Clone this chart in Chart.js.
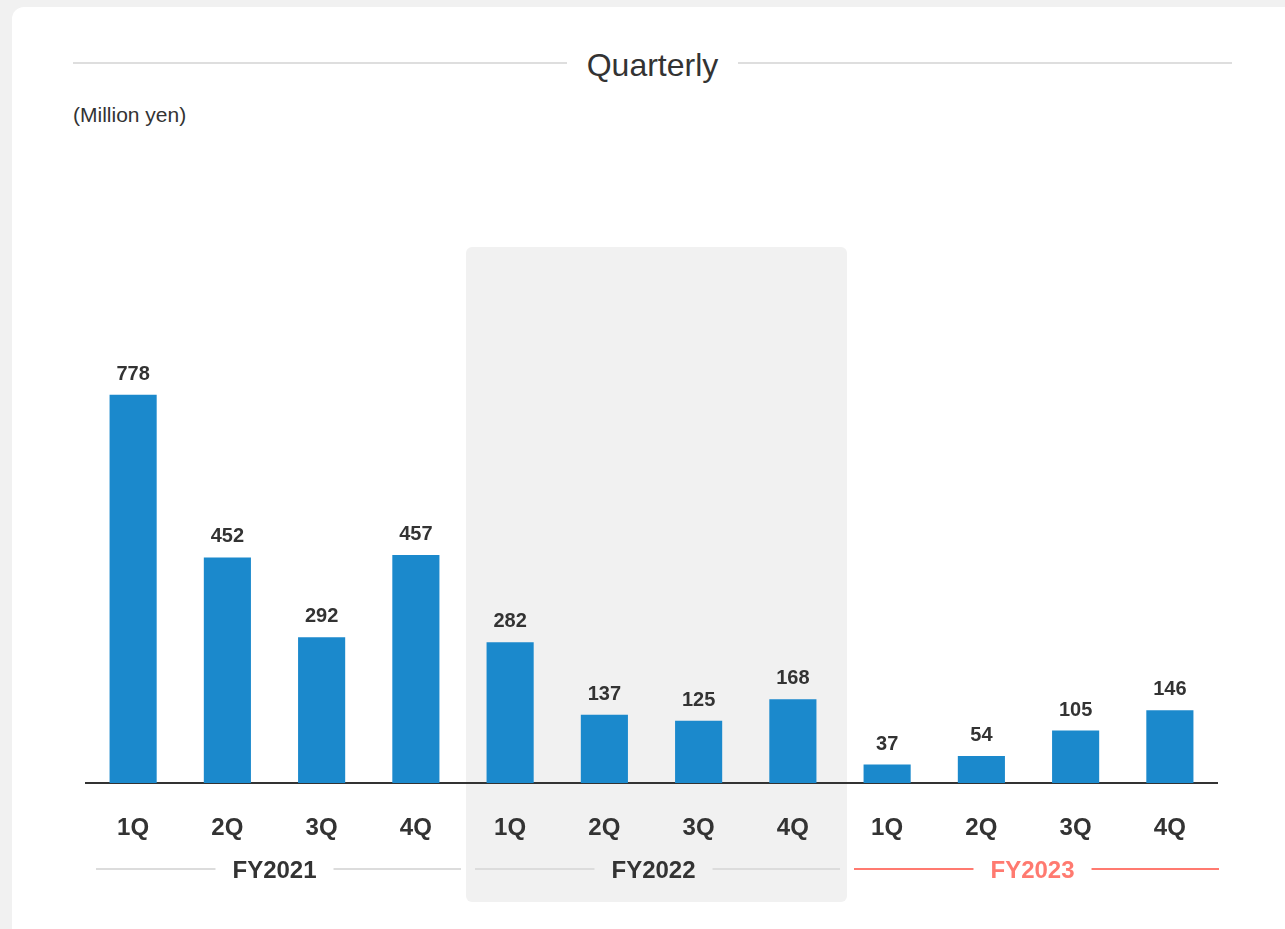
<!DOCTYPE html>
<html>
<head>
<meta charset="utf-8">
<script src="https://cdn.jsdelivr.net/npm/chart.js@4.4.0/dist/chart.umd.min.js"></script>
<style>
  html, body { margin: 0; padding: 0; }
  body {
    width: 1285px; height: 929px; overflow: hidden; position: relative;
    background: #f1f1f1;
    font-family: "Liberation Sans", Arial, sans-serif;
    color: #333;
  }
  .card {
    position: absolute; left: 12px; top: 7px; width: 1320px; height: 980px;
    background: #fff; border-radius: 12px;
  }
  .heading {
    position: absolute; left: 73px; top: 45px; width: 1159px; height: 40px;
    display: flex; align-items: center;
  }
  .heading .rule { flex: 1; height: 2px; background: #dedede; margin-top: -4px; }
  .heading span { font-size: 32px; margin: 0 20px; color: #333; line-height: 40px; }
  .unit {
    position: absolute; left: 73px; top: 102px; font-size: 21px; line-height: 26px; color: #333;
  }
  #chart { position: absolute; left: 0; top: 0; }
</style>
</head>
<body>
<div class="card"></div>
<div class="heading"><div class="rule"></div><span>Quarterly</span><div class="rule"></div></div>
<div class="unit">(Million yen)</div>
<canvas id="chart" width="1285" height="929"></canvas>
<script>
const quarters = ['1Q', '2Q', '3Q', '4Q', '1Q', '2Q', '3Q', '4Q', '1Q', '2Q', '3Q', '4Q'];
const values = [778, 452, 292, 457, 282, 137, 125, 168, 37, 54, 105, 146];
const fiscalYears = ['FY2021', 'FY2022', 'FY2023'];
const yearColors = ['#333333', '#333333', '#ff7a70'];
const ruleColors = ['#dcdcdc', '#dcdcdc', '#ff7a70'];
const shadedYear = 1;

const FONT = '"Liberation Sans", Arial, sans-serif';

// half-width of one category slot on the x scale
function slot(x) {
  return (x.getPixelForValue(1) - x.getPixelForValue(0)) / 2;
}

const shadePlugin = {
  id: 'shade',
  beforeDraw(chart) {
    const x = chart.scales.x;
    const ctx = chart.ctx;
    const h = slot(x);
    const left = x.getPixelForValue(shadedYear * 4) - h + 3;
    const right = x.getPixelForValue(shadedYear * 4 + 3) + h + 7;
    ctx.save();
    ctx.fillStyle = '#f1f1f1';
    ctx.beginPath();
    ctx.roundRect(left, 247, right - left, 655, 6);
    ctx.fill();
    ctx.restore();
  }
};

const valueLabels = {
  id: 'valueLabels',
  afterDatasetsDraw(chart) {
    const ctx = chart.ctx;
    const meta = chart.getDatasetMeta(0);
    ctx.save();
    ctx.font = 'bold 20px ' + FONT;
    ctx.fillStyle = '#333';
    ctx.textAlign = 'center';
    ctx.textBaseline = 'alphabetic';
    meta.data.forEach((bar, i) => {
      ctx.fillText(values[i], bar.x, bar.y - 15);
    });
    ctx.restore();
  }
};

const yearLabels = {
  id: 'yearLabels',
  afterDraw(chart) {
    const x = chart.scales.x;
    const ctx = chart.ctx;
    const h = slot(x);
    const lineY = 869;
    ctx.save();
    ctx.font = 'bold 24px ' + FONT;
    ctx.textAlign = 'center';
    ctx.textBaseline = 'alphabetic';
    fiscalYears.forEach((fy, g) => {
      // the later groups sit a few pixels further right
      const nudge = g * 2;
      const left = x.getPixelForValue(g * 4) - h + nudge;
      const right = x.getPixelForValue(g * 4 + 3) + h + nudge;
      const mid = (left + right) / 2;
      const tw = ctx.measureText(fy).width;
      ctx.fillStyle = yearColors[g];
      ctx.fillText(fy, mid, 878);
      ctx.strokeStyle = ruleColors[g];
      ctx.lineWidth = 2;
      ctx.beginPath();
      ctx.moveTo(left + 10, lineY);
      ctx.lineTo(mid - tw / 2 - 17, lineY);
      ctx.moveTo(mid + tw / 2 + 17, lineY);
      ctx.lineTo(right - 2, lineY);
      ctx.stroke();
    });
    ctx.restore();
  }
};

new Chart(document.getElementById('chart'), {
  type: 'bar',
  data: {
    labels: quarters,
    datasets: [{
      data: values,
      backgroundColor: '#1b89cc',
      borderWidth: 0,
      categoryPercentage: 1,
      barPercentage: 0.5
    }]
  },
  options: {
    responsive: false,
    animation: false,
    events: [],
    layout: { padding: { left: 86, right: 68, top: 284, bottom: 86 } },
    plugins: { legend: { display: false }, tooltip: { enabled: false } },
    scales: {
      x: {
        grid: { display: false, drawTicks: false },
        border: { display: true, color: '#333', width: 2 },
        ticks: {
          color: '#333',
          font: { family: FONT, size: 24, weight: 'bold' },
          padding: 31,
          maxRotation: 0,
          autoSkip: false
        },
        afterFit(scale) { scale.height = 60; }
      },
      y: {
        display: false,
        min: 0,
        max: 1000
      }
    }
  },
  plugins: [shadePlugin, valueLabels, yearLabels]
});
</script>
</body>
</html>
